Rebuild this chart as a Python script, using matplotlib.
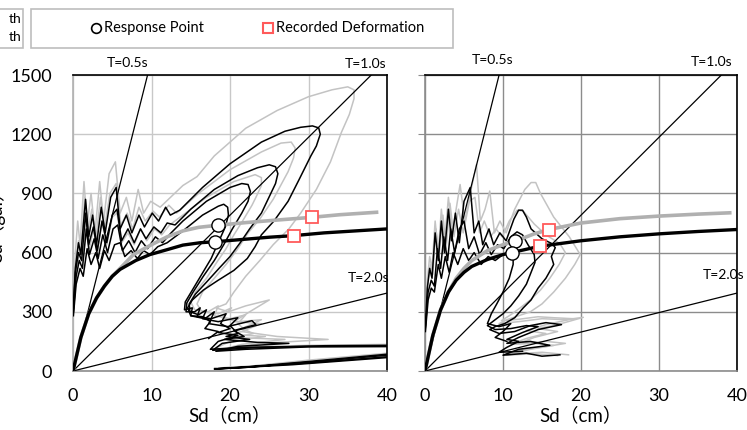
import numpy as np
import matplotlib.pyplot as plt
from matplotlib.patches import Rectangle
from matplotlib.lines import Line2D

plt.rcParams['font.family'] = ['Lato', 'Noto Sans CJK JP', 'DejaVu Sans']

# axis ranges / ticks
sd_ticks = [0, 10, 20, 30, 40]
sa_ticks = [0, 300, 600, 900, 1200, 1500]
periods = [0.5, 1.0, 2.0]
period_labels = ['T=0.5s', 'T=1.0s', 'T=2.0s']

# ---- left panel ----
# capacity curves (Sd cm, Sa gal)
cap_l_black = [(0, 0), (1, 170), (2, 290), (3, 370), (4, 430), (5, 480), (6, 515), (8, 560),
               (9.8, 590), (12, 615), (14, 638), (16.2, 650), (18.1, 655), (22, 668), (25, 678),
               (28.1, 686), (32, 700), (36, 710), (40, 720)]
cap_l_grey = [(0, 0), (1, 170), (2, 290), (3, 370), (4, 430), (5, 480), (6, 520), (7.7, 590),
              (10, 640), (12, 680), (14, 710), (16, 728), (18.3, 738), (22, 752), (26, 765),
              (30.2, 778), (34, 792), (38.9, 805)]
resp_l = [(18.5, 738), (18.1, 653)]
rec_l = [(30.5, 778), (28.1, 686)]

# demand spectra, black set
dem_l_black = [
    [(0.05, 330), (0.3, 520), (0.7, 650), (1.0, 590), (1.6, 870), (2.0, 680), (2.5, 790), (3.0, 640),
     (3.6, 830), (4.1, 700), (4.8, 880), (5.5, 930), (6.0, 720), (6.8, 790), (7.5, 700), (8.4, 790),
     (9.1, 730), (10.1, 800), (10.9, 760), (11.8, 830), (12.4, 790), (13.6, 815), (16.5, 930),
     (20, 1050), (24, 1160), (27, 1215), (29, 1235), (30.5, 1242), (31.3, 1232), (31.5, 1200),
     (31.0, 1140), (30.3, 1090), (28.8, 970), (27.4, 860), (25.6, 760), (24.0, 690), (23.2, 630),
     (22.2, 570), (20.5, 510), (18.5, 460), (16.6, 410), (15.2, 360), (14.6, 320), (15.0, 280),
     (16.8, 265), (18.0, 300), (17.3, 240), (19.7, 225), (22.8, 255), (23.3, 235), (20.5, 205),
     (21.8, 175), (19.3, 160), (23.5, 145), (27.5, 140), (21.0, 125), (18.2, 100), (22.0, 110),
     (30.0, 122), (40.0, 124), (45.0, 120), (45.0, 100), (40.0, 85), (30.0, 48), (22.0, 20),
     (18.5, 12), (28.0, 35), (40.0, 72), (46.0, 85)],
    [(0.05, 320), (0.3, 500), (0.7, 600), (1.1, 560), (1.6, 800), (2.0, 640), (2.6, 730), (3.1, 610),
     (3.7, 760), (4.3, 650), (5.0, 790), (5.6, 820), (6.2, 660), (7.0, 720), (7.8, 650), (8.6, 720),
     (9.3, 670), (10.3, 730), (11.2, 700), (12.0, 750), (13.0, 740), (15, 820), (18, 920), (21, 990),
     (23.5, 1030), (25, 1045), (25.8, 1035), (26.1, 1000), (25.8, 950), (25.2, 900), (24.0, 800),
     (22.5, 720), (21.3, 650), (20.0, 580), (18.6, 520), (17.0, 450), (15.6, 390), (14.8, 340),
     (14.9, 300), (16.0, 285), (17.0, 310), (16.5, 265), (18.5, 250), (21.0, 270), (20.0, 230),
     (21.0, 190), (19.5, 175), (22.5, 160), (19.0, 140), (17.8, 105), (23.0, 118), (32.0, 128),
     (40.0, 130), (45, 126), (45, 95), (40, 80), (30, 45), (22, 18), (18, 10), (28, 32), (40, 68),
     (46, 80)],
    [(0.05, 300), (0.4, 480), (0.8, 560), (1.2, 520), (1.7, 720), (2.1, 590), (2.7, 670), (3.2, 570),
     (3.8, 690), (4.4, 600), (5.1, 720), (5.7, 740), (6.3, 610), (7.1, 660), (7.9, 600), (8.7, 660),
     (9.5, 620), (10.5, 680), (11.4, 650), (12.5, 700), (14, 760), (17, 860), (20, 930), (21.5, 950),
     (22.3, 945), (22.6, 910), (22.3, 860), (21.5, 800), (20.3, 720), (19.2, 640), (18.0, 560),
     (16.6, 480), (15.3, 400), (14.5, 345), (14.4, 300), (15.5, 300), (16.2, 320), (15.8, 275),
     (17.6, 265), (19.5, 290), (18.8, 240), (20.0, 215), (18.5, 195), (21.0, 180), (18.5, 150),
     (17.5, 110), (22, 120), (30, 125), (40, 125)],
    [(0.05, 280), (0.4, 440), (0.9, 520), (1.3, 480), (1.8, 620), (2.3, 540), (2.9, 600), (3.4, 520),
     (4.0, 610), (4.6, 560), (5.3, 640), (6.0, 650), (6.6, 580), (7.4, 610), (8.2, 570), (9.0, 610),
     (9.8, 590), (10.8, 630), (12, 650), (14, 710), (16.5, 790), (18.5, 835), (19.2, 845),
     (19.7, 830), (19.8, 790), (19.4, 730), (18.5, 650), (17.6, 570), (16.4, 490), (15.2, 410),
     (14.3, 350), (14.2, 310), (15.2, 320), (15.0, 280), (16.6, 275), (17.5, 250), (16.8, 215),
     (18.5, 200), (17.3, 165)],
]
# demand spectra, grey set
dem_l_grey = [
    [(0.05, 350), (0.3, 600), (0.6, 760), (0.9, 640), (1.4, 960), (1.8, 740), (2.3, 900), (2.8, 700),
     (3.4, 960), (3.9, 760), (4.6, 1000), (5.4, 1060), (6.0, 800), (6.8, 880), (7.5, 760), (8.3, 920),
     (9.0, 800), (9.9, 860), (11.1, 830), (14, 940), (15.8, 985), (18, 1090), (22, 1230), (26, 1320),
     (30, 1390), (33, 1425), (35, 1440), (35.8, 1425), (35.8, 1380), (35.2, 1300), (34.2, 1210),
     (32.8, 1060), (31.0, 920), (29.0, 800), (27.5, 720), (25.5, 640), (23.8, 560), (22.0, 480),
     (20.5, 400), (19.5, 340), (18.2, 320), (19.8, 300), (22.0, 330), (25.0, 360), (22.5, 300),
     (20.5, 250), (24.0, 240), (21.5, 200), (26.0, 175), (32.5, 160), (24.0, 140), (20.5, 120),
     (30.0, 130), (40.0, 135), (46.0, 132), (46.0, 105), (40, 90), (30, 55), (22, 22), (18, 14),
     (28, 38), (40, 78), (46, 92)],
    [(0.05, 320), (0.3, 540), (0.7, 660), (1.0, 600), (1.5, 880), (1.9, 700), (2.4, 820), (2.9, 660),
     (3.5, 880), (4.0, 720), (4.7, 900), (5.5, 950), (6.1, 740), (6.9, 800), (7.6, 720), (8.4, 830),
     (9.2, 760), (10.2, 810), (11.0, 780), (12.2, 840), (13.2, 800), (16, 900), (20, 1020),
     (24, 1110), (26.5, 1155), (27.8, 1160), (28.3, 1130), (28.1, 1080), (27.4, 1010), (25.5, 870),
     (23.8, 770), (22.3, 700), (21.0, 620), (19.5, 540), (18.0, 470), (16.5, 400), (15.8, 340),
     (16.4, 300), (18.5, 290), (20.2, 320), (19.0, 270), (21.0, 250), (24.0, 260), (21.5, 215),
     (23.0, 190), (20.5, 170), (27.0, 160), (21.5, 135), (19.0, 110), (25.0, 120), (33, 128),
     (40, 130), (46, 127)],
    [(0.05, 300), (0.4, 500), (0.8, 600), (1.2, 550), (1.7, 780), (2.1, 620), (2.6, 720), (3.1, 600),
     (3.7, 760), (4.3, 640), (5.0, 780), (5.6, 800), (6.2, 650), (7.0, 700), (7.8, 640), (8.6, 720),
     (9.4, 660), (10.4, 720), (11.3, 690), (12.3, 740), (14, 790), (17, 880), (20.5, 960),
     (23.2, 995), (24.0, 980), (24.0, 940), (23.3, 880), (22.8, 840), (21.6, 760), (20.5, 690),
     (19.5, 620), (18.3, 550), (17.0, 470), (15.6, 400), (15.0, 350), (15.5, 310), (17.2, 300),
     (18.5, 330), (18.0, 280), (20.0, 265), (22.0, 285), (21.0, 240), (22.0, 205), (20.0, 185),
     (24.5, 175), (20.0, 150), (18.0, 112), (24, 122), (32, 128), (40, 128)],
]

# ---- right panel ----
cap_r_black = [(0, 0), (1, 180), (2, 310), (3, 400), (4, 460), (5, 500), (6, 530), (8, 565),
               (10, 590), (11.1, 600), (14.7, 632), (20, 660), (25, 680), (30, 695), (35, 707),
               (40, 717)]
cap_r_grey = [(0, 0), (1, 180), (2, 310), (3, 400), (4, 470), (5, 520), (6, 560), (8, 610),
              (10, 640), (11.5, 657), (14, 695), (15.9, 717), (20, 750), (25, 772), (30, 785),
              (35, 795), (39.3, 802)]
resp_r = [(11.5, 657), (11.1, 600)]
rec_r = [(15.9, 717), (14.7, 632)]

dem_r_black = [
    [(0.05, 230), (0.3, 420), (0.6, 520), (0.9, 470), (1.3, 700), (1.7, 560), (2.1, 760), (2.5, 600),
     (3.0, 820), (3.4, 660), (3.9, 800), (4.4, 650), (5.0, 860), (5.8, 930), (6.3, 700), (6.9, 760),
     (7.4, 640), (8.2, 720), (8.8, 640), (9.6, 700), (10.4, 660), (11.4, 770), (12.0, 815),
     (12.5, 815), (13.0, 780), (13.6, 720), (15.0, 670), (16.3, 645), (16.7, 625), (16.2, 580),
     (16.5, 540), (15.5, 470), (14.5, 420), (13.6, 360), (12.6, 320), (11.5, 270), (10.2, 240),
     (9.0, 225), (8.3, 210), (9.5, 190), (11.5, 200), (13.5, 230), (15.5, 245), (17.5, 235),
     (14.5, 210), (12.0, 170), (10.5, 140), (13.5, 150), (16.0, 130), (12.0, 110), (10.0, 80),
     (13.0, 90), (15.0, 75), (17.3, 82)],
    [(0.05, 220), (0.4, 400), (0.8, 460), (1.2, 430), (1.6, 620), (2.0, 520), (2.4, 680), (2.9, 560),
     (3.3, 720), (3.8, 600), (4.4, 720), (5.0, 760), (5.6, 620), (6.3, 680), (7.0, 590), (7.8, 650),
     (8.5, 590), (9.3, 640), (10.1, 620), (11.0, 680), (11.8, 705), (12.5, 690), (13.2, 640),
     (14.0, 590), (14.1, 550), (13.6, 500), (13.0, 440), (12.0, 380), (11.0, 330), (10.0, 290),
     (9.0, 260), (8.0, 230), (9.0, 210), (11.0, 215), (13.0, 230), (14.5, 225), (12.5, 195),
     (10.5, 160), (12.0, 150), (10.5, 120), (9.5, 95), (12.5, 100)],
    [(0.05, 200), (0.4, 360), (0.8, 420), (1.2, 400), (1.7, 540), (2.1, 470), (2.6, 580), (3.1, 500),
     (3.6, 600), (4.2, 540), (4.9, 620), (5.6, 560), (6.3, 600), (7.2, 540), (8.1, 580), (9.0, 560),
     (10.0, 590), (10.8, 605), (11.3, 590), (11.3, 540), (10.8, 470), (10.0, 400), (9.2, 340),
     (8.5, 290), (8.0, 240), (9.5, 225), (11.0, 240), (10.0, 200), (9.0, 170), (10.5, 150)],
]
dem_r_grey = [
    [(0.05, 250), (0.3, 460), (0.6, 580), (0.9, 520), (1.3, 760), (1.7, 600), (2.1, 820), (2.5, 650),
     (3.0, 880), (3.5, 700), (4.5, 945), (5.1, 760), (5.8, 900), (6.6, 1047), (7.1, 760), (7.7, 820),
     (8.3, 912), (8.9, 700), (9.6, 760), (10.4, 700), (11.5, 820), (12.8, 920), (13.6, 955),
     (14.2, 955), (14.8, 900), (16.5, 780), (18.5, 680), (19.9, 590), (19.2, 540), (18.0, 470),
     (16.5, 400), (15.0, 340), (13.5, 300), (12.0, 280), (10.5, 260), (9.5, 240), (12.0, 250),
     (15.0, 265), (18.0, 260), (20.3, 272), (17.0, 235), (14.5, 215), (17.0, 200), (14.0, 170),
     (12.0, 140), (15.5, 150), (18.0, 140), (13.5, 110), (11.0, 85), (15.0, 95), (18.4, 82)],
    [(0.05, 240), (0.3, 440), (0.7, 540), (1.0, 490), (1.4, 720), (1.8, 580), (2.3, 790), (2.7, 620),
     (3.2, 850), (3.7, 680), (4.3, 820), (4.9, 700), (5.7, 860), (6.4, 880), (7.0, 700), (7.6, 760),
     (8.4, 680), (9.1, 720), (9.9, 680), (10.8, 760), (11.8, 815), (12.6, 810), (14.0, 745),
     (15.5, 690), (17.3, 645), (18.0, 600), (17.2, 540), (16.0, 470), (14.8, 410), (13.5, 360),
     (12.2, 320), (11.0, 285), (9.8, 255), (12.0, 262), (14.5, 275), (16.5, 270), (19.0, 265),
     (15.5, 235), (13.0, 205), (15.5, 190), (13.0, 165), (11.0, 135), (14.0, 140), (16.5, 130),
     (12.0, 105), (10.5, 80), (14.0, 88), (17.0, 78)],
]

GREY = '#c3c3c3'
CJK = ['Lato', 'Noto Sans CJK JP']


def draw_panel(ax, dem_grey, dem_black, cap_grey, cap_black, resp, rec, grid_color, left_spine):
    ax.set_xlim(0, 40)
    ax.set_ylim(0, 1500)
    ax.set_xticks(sd_ticks)
    ax.set_yticks(sa_ticks)
    ax.grid(True, color=grid_color, lw=1.0, zorder=0)
    ax.set_axisbelow(True)

    for c in dem_grey:
        c = np.array(c)
        ax.plot(c[:, 0], c[:, 1], color=GREY, lw=1.1, zorder=2)
    for c in dem_black:
        c = np.array(c)
        ax.plot(c[:, 0], c[:, 1], color='black', lw=1.1, zorder=3)

    # constant period lines  Sa = (2pi/T)^2 * Sd
    sd = np.linspace(0, 40, 200)
    for T in periods:
        ax.plot(sd, (2 * np.pi / T) ** 2 * sd, color='black', lw=0.9, zorder=4)

    cg = np.array(cap_grey)
    cb = np.array(cap_black)
    ax.plot(cg[:, 0], cg[:, 1], color='#b0b0b0', lw=2.6, zorder=5, solid_capstyle='butt')
    ax.plot(cb[:, 0], cb[:, 1], color='black', lw=2.4, zorder=6, solid_capstyle='butt')

    r = np.array(resp)
    ax.plot(r[:, 0], r[:, 1], 'o', ms=9.5, mfc='white', mec='black', mew=1.0, zorder=7)
    q = np.array(rec)
    ax.plot(q[:, 0], q[:, 1], 's', ms=8, mfc='white', mec='#ff5a5a', mew=1.3, zorder=7)

    for s in ['top', 'right']:
        ax.spines[s].set_color('black')
        ax.spines[s].set_linewidth(1.2)
    ax.spines['bottom'].set_color('#8c8c8c')
    ax.spines['left'].set_color(left_spine)
    for s in ['bottom', 'left']:
        ax.spines[s].set_linewidth(1.2)
    ax.tick_params(axis='x', length=0, pad=12, labelsize=13)
    ax.set_xlabel('Sd（cm）', fontsize=13.5, labelpad=2, family=CJK)


fig = plt.figure(figsize=(7.47, 4.30), dpi=100)
axl = fig.add_axes([73 / 747, 1 - 371 / 430, 314 / 747, 296 / 430])
axr = fig.add_axes([425 / 747, 1 - 371 / 430, 312 / 747, 296 / 430])

draw_panel(axl, dem_l_grey, dem_l_black, cap_l_grey, cap_l_black, resp_l, rec_l, '#c8c8c8', '#b0b0b0')
draw_panel(axr, dem_r_grey, dem_r_black, cap_r_grey, cap_r_black, resp_r, rec_r, '#8c8c8c', '#8c8c8c')

axl.tick_params(axis='y', length=0, pad=15, labelsize=13)
axr.tick_params(axis='y', length=5, color='#8c8c8c', labelleft=False)

# period labels
lab_pos_l = [(7.0, 1530), (37.3, 1525), (37.6, 440)]
lab_pos_r = [(8.6, 1545), (36.8, 1535), (38.3, 455)]
for ax, pos in [(axl, lab_pos_l), (axr, lab_pos_r)]:
    for txt, (x, y) in zip(period_labels, pos):
        ax.text(x, y, txt, fontsize=10, ha='center', va='bottom', clip_on=False)

fig.text(-4 / 747, 1 - 222 / 430, 'Sa（gal）', rotation=90, fontsize=13.5, ha='center', va='center',
         family=CJK)

# legend boxes along the top
fig.add_artist(Rectangle((-0.02, 1 - 48 / 430), 23 / 747 + 0.02, 39 / 430, transform=fig.transFigure,
                         fill=False, ec='#bdbdbd', lw=1.2))
fig.text(21 / 747, 1 - 19 / 430, 'th', fontsize=10, ha='right', va='center')
fig.text(21 / 747, 1 - 37 / 430, 'th', fontsize=10, ha='right', va='center')
fig.add_artist(Rectangle((31 / 747, 1 - 48 / 430), 422 / 747, 39 / 430, transform=fig.transFigure,
                         fill=False, ec='#bdbdbd', lw=1.2))
fig.add_artist(Line2D([96 / 747], [1 - 28 / 430], marker='o', ms=7, mfc='white', mec='black', mew=1.2,
                      transform=fig.transFigure))
fig.text(104 / 747, 1 - 28 / 430, 'Response Point', fontsize=10.5, ha='left', va='center')
fig.add_artist(Line2D([268 / 747], [1 - 28 / 430], marker='s', ms=7, mfc='white', mec='#ff5a5a', mew=1.5,
                      transform=fig.transFigure))
fig.text(276 / 747, 1 - 28 / 430, 'Recorded Deformation', fontsize=10.5, ha='left', va='center')

fig.savefig('out.png', dpi=100)
